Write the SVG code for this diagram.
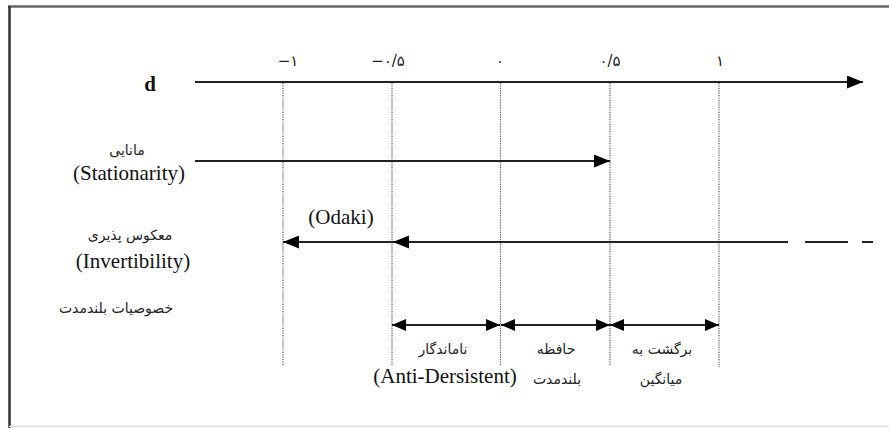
<svg xmlns="http://www.w3.org/2000/svg" width="889" height="428" viewBox="0 0 889 428">
<style>
.en{font-family:"Liberation Serif","Times New Roman",serif;font-size:21px;fill:#111;text-anchor:middle}
.fa{font-family:"DejaVu Sans","Noto Sans",sans-serif;font-size:14px;fill:#222;text-anchor:middle}
.tick{font-family:"DejaVu Sans","Noto Sans",sans-serif;font-size:15px;fill:#222;text-anchor:middle}
.ln{stroke:#222;stroke-width:2;fill:none}
.dot{stroke:#555;stroke-width:1.2;stroke-dasharray:1.2 1.2;fill:none}
</style>
<defs>
<marker id="ah" viewBox="0 0 16 13" refX="16" refY="6.5" markerWidth="16" markerHeight="13" markerUnits="userSpaceOnUse" orient="auto-start-reverse">
<path d="M0,0 L16,6.5 L0,13 Z" fill="#000"/>
</marker>
<marker id="as" viewBox="0 0 14 12" refX="14" refY="6" markerWidth="14" markerHeight="12" markerUnits="userSpaceOnUse" orient="auto-start-reverse">
<path d="M0,0 L14,6 L0,12 Z" fill="#000"/>
</marker>
</defs>
<rect width="889" height="428" fill="#fff"/>
<g id="frame">
<line x1="8" y1="6.5" x2="889" y2="6.5" stroke="#666" stroke-width="2.5"/>
<line x1="9.5" y1="6" x2="9.5" y2="428" stroke="#333" stroke-width="2.5"/>
<line x1="9" y1="426.5" x2="889" y2="426.5" stroke="#ddd" stroke-width="1.5"/>
</g>
<g id="guides">
<line class="dot" x1="283" y1="83" x2="283" y2="365"/>
<line class="dot" x1="392" y1="83" x2="392" y2="365"/>
<line class="dot" x1="500.5" y1="83" x2="500.5" y2="365"/>
<line class="dot" x1="610" y1="83" x2="610" y2="365"/>
<line class="dot" x1="719" y1="83" x2="719" y2="367"/>
</g>
<g id="ticks">
<text class="tick" x="288" y="66">−۱</text>
<text class="tick" x="388" y="66">−۰/۵</text>
<text class="tick" x="500" y="66">۰</text>
<text class="tick" x="610" y="66">۰/۵</text>
<text class="tick" x="720" y="66">۱</text>
</g>
<g id="node-d">
<text x="150" y="91" font-family="Liberation Serif,serif" font-size="21" font-weight="bold" text-anchor="middle" fill="#111">d</text>
</g>
<g id="node-stationarity">
<text class="fa" x="127" y="155">مانایی</text>
<text class="en" x="129" y="180">(Stationarity)</text>
</g>
<g id="node-invertibility">
<text class="fa" x="130" y="240">معکوس پذیری</text>
<text class="en" x="133" y="268">(Invertibility)</text>
</g>
<g id="node-odaki">
<text class="en" x="341" y="224">(Odaki)</text>
</g>
<g id="node-longterm">
<text class="fa" x="116" y="313">خصوصیات بلندمدت</text>
</g>
<g id="node-anti">
<text class="fa" x="443" y="354">ناماندگار</text>
<text class="en" x="445" y="383">(Anti-Dersistent)</text>
</g>
<g id="node-memory">
<text class="fa" x="556" y="354">حافظه</text>
<text class="fa" x="557" y="384">بلندمدت</text>
</g>
<g id="node-mean">
<text class="fa" x="662" y="354">برگشت به</text>
<text class="fa" x="661" y="384">میانگین</text>
</g>
<g id="connectors">
<line class="ln" x1="195" y1="82" x2="863" y2="82" marker-end="url(#ah)"/>
<line class="ln" x1="195" y1="161" x2="610" y2="161" marker-end="url(#ah)"/>
<line class="ln" x1="788" y1="242" x2="283" y2="242" marker-end="url(#ah)"/>
<path d="M393,242 l16,-6.5 l0,13 Z" fill="#000"/>
<line class="ln" x1="805" y1="242" x2="848" y2="242"/>
<line class="ln" x1="862" y1="242" x2="873" y2="242"/>
<line class="ln" x1="392" y1="325" x2="500" y2="325" marker-start="url(#as)" marker-end="url(#as)"/>
<line class="ln" x1="501" y1="325" x2="610" y2="325" marker-start="url(#as)" marker-end="url(#as)"/>
<line class="ln" x1="610" y1="325" x2="719" y2="325" marker-start="url(#as)" marker-end="url(#as)"/>
</g>
</svg>
